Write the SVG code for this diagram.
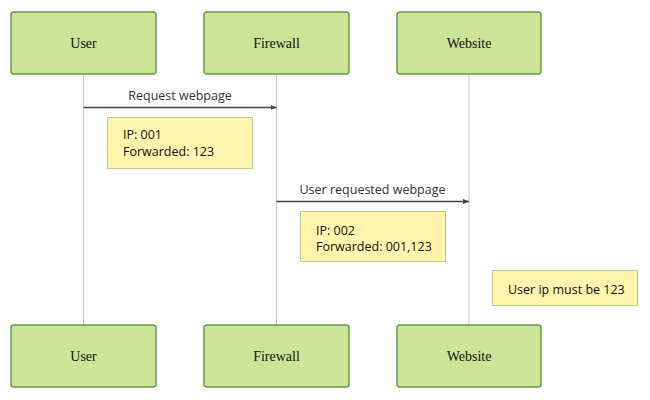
<svg xmlns="http://www.w3.org/2000/svg" width="650" height="400" viewBox="0 0 650 400">
<style>
.actor{fill:#cde498;stroke:#6a9a48;stroke-width:1.5}
.actor-label{font-family:"Liberation Serif",serif;font-size:14px;fill:#111;text-anchor:middle;dominant-baseline:central}
.lifeline{stroke:#c8c8c8;stroke-width:1}
.msg{stroke:#444;stroke-width:1.5;fill:none}
.msg-label{font-family:"Open Sans","DejaVu Sans",sans-serif;font-size:12.5px;fill:#333;text-anchor:middle}
.note{fill:#fff5ad;stroke:#b6d08a;stroke-width:1}
.note-text{font-family:"Open Sans","DejaVu Sans",sans-serif;font-size:12.5px;fill:#111}
</style>
<defs>
<marker id="arrow" viewBox="0 0 10 10" refX="10" refY="5" markerWidth="6" markerHeight="6" orient="auto" markerUnits="userSpaceOnUse">
<path d="M0,1 L10,5 L0,9 z" fill="#444"/>
</marker>
</defs>
<g id="lifelines">
<line class="lifeline" x1="83.5" y1="74" x2="83.5" y2="325"/>
<line class="lifeline" x1="276.5" y1="74" x2="276.5" y2="325"/>
<line class="lifeline" x1="469" y1="74" x2="469" y2="325"/>
</g>
<g id="actor-user-top"><rect class="actor" x="11" y="12" width="145" height="62" rx="3"/><text class="actor-label" x="83.5" y="43">User</text></g>
<g id="actor-firewall-top"><rect class="actor" x="204" y="12" width="145" height="62" rx="3"/><text class="actor-label" x="276.5" y="43">Firewall</text></g>
<g id="actor-website-top"><rect class="actor" x="397" y="12" width="144" height="62" rx="3"/><text class="actor-label" x="469" y="43">Website</text></g>
<g id="actor-user-bottom"><rect class="actor" x="11" y="325" width="145" height="62" rx="3"/><text class="actor-label" x="83.5" y="356">User</text></g>
<g id="actor-firewall-bottom"><rect class="actor" x="204" y="325" width="145" height="62" rx="3"/><text class="actor-label" x="276.5" y="356">Firewall</text></g>
<g id="actor-website-bottom"><rect class="actor" x="397" y="325" width="144" height="62" rx="3"/><text class="actor-label" x="469" y="356">Website</text></g>
<g id="connectors">
<line class="msg" x1="83.5" y1="107.5" x2="276.5" y2="107.5" marker-end="url(#arrow)"/>
<text class="msg-label" x="180" y="100">Request webpage</text>
<line class="msg" x1="276.5" y1="201.5" x2="469" y2="201.5" marker-end="url(#arrow)"/>
<text class="msg-label" x="372.5" y="194">User requested webpage</text>
</g>
<g id="note-1"><rect class="note" x="107.5" y="117.5" width="145" height="51"/><text class="note-text" x="123" y="139">IP: 001</text><text class="note-text" x="123" y="156">Forwarded: 123</text></g>
<g id="note-2"><rect class="note" x="300.5" y="211.5" width="145" height="50"/><text class="note-text" x="316" y="235">IP: 002</text><text class="note-text" x="316" y="251">Forwarded: 001,123</text></g>
<g id="note-3"><rect class="note" x="492.5" y="270.5" width="145" height="35"/><text class="note-text" x="508" y="294">User ip must be 123</text></g>
</svg>
